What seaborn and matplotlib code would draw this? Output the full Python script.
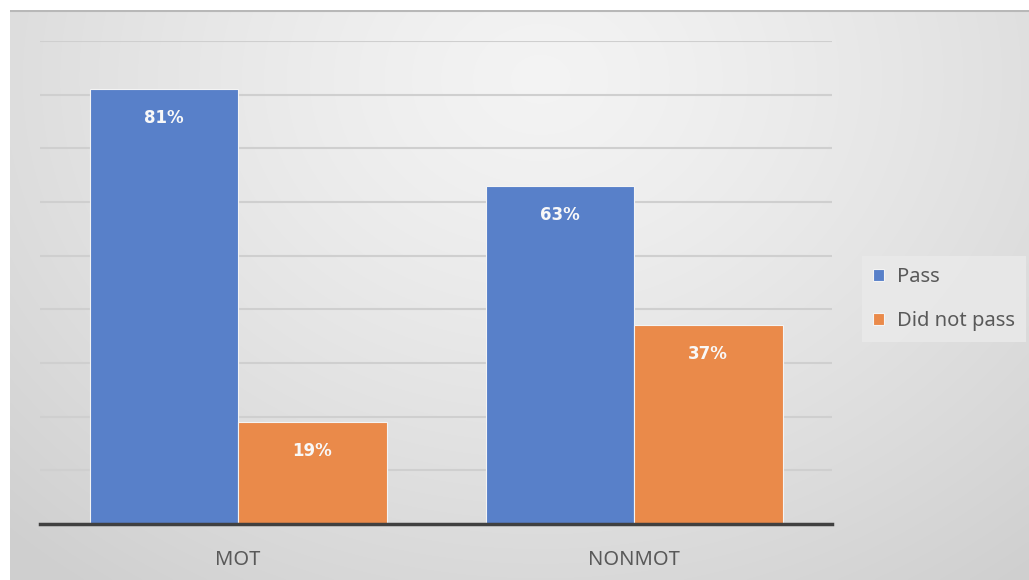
import numpy as np
import pandas as pd
import matplotlib
matplotlib.use("Agg")
import matplotlib.pyplot as plt
import seaborn as sns

categories = ["MOT", "NONMOT"]
series = ["Pass", "Did not pass"]
pass_vals = [0.81, 0.63]
fail_vals = [0.19, 0.37]
colors = ["#5880C9", "#EA8A4A"]

df = pd.DataFrame({
    "group": categories * 2,
    "result": [series[0]] * 2 + [series[1]] * 2,
    "share": pass_vals + fail_vals,
})

sns.set_theme(style="white")
plt.rcParams["font.family"] = ["Noto Sans", "DejaVu Sans"]

W, H = 1029, 580
fig = plt.figure(figsize=(W / 100, H / 100), dpi=100)
fig.patch.set_facecolor("white")

# soft radial backdrop behind the chart area
bg = fig.add_axes([10 / W, 0, 1 - 10 / W, 1 - 10 / H])
ny, nx = 300, 540
yy, xx = np.mgrid[0:ny, 0:nx]
cx, cy = nx * 0.52, ny * 0.12
r = np.sqrt(((xx - cx) / (nx * 0.75)) ** 2 + ((yy - cy) / (ny * 1.1)) ** 2)
r = np.clip(r, 0, 1)
light, dark = 0.955, 0.815
shade = light - (light - dark) * r ** 1.3
bg.imshow(np.dstack([shade] * 3), aspect="auto", extent=[0, 1, 0, 1],
          interpolation="bilinear")
bg.plot([0, 1], [0.998, 0.998], color="#b8b8b8", lw=1.5, transform=bg.transAxes)
bg.set_axis_off()

ax = fig.add_axes([40 / W, 1 - 524 / H, (832 - 40) / W, (524 - 41) / H])
ax.patch.set_alpha(0)

sns.barplot(data=df, x="group", y="share", hue="result", hue_order=series,
            palette=colors, width=0.75, saturation=1, edgecolor="#f4f4f4",
            linewidth=0.8, ax=ax, legend=True)

ax.set_ylim(0, 0.9)
ax.set_xlim(-0.5, 1.5)
ax.set_yticks(np.arange(0.1, 0.91, 0.1))
ax.yaxis.grid(True, color="#cfcfcf", lw=1.5)
ax.set_axisbelow(True)
ax.tick_params(axis="y", left=False, labelleft=False)
ax.tick_params(axis="x", bottom=False, labelsize=14.5, labelcolor="#595959", pad=13)
ax.set_xlabel("")
ax.set_ylabel("")
for s in ["top", "right", "left"]:
    ax.spines[s].set_visible(False)
ax.spines["bottom"].set_color("#404040")
ax.spines["bottom"].set_linewidth(2.5)

for cont in ax.containers:
    for bar in cont:
        h = bar.get_height()
        ax.annotate(f"{h * 100:.0f}%",
                    (bar.get_x() + bar.get_width() / 2, h),
                    xytext=(0, -29), textcoords="offset pixels",
                    ha="center", va="center", color="#f8f8f8",
                    fontsize=12, fontweight="bold", family="DejaVu Sans")

leg = ax.legend(loc="center left", bbox_to_anchor=(862 / W, 1 - 299 / H),
                bbox_transform=fig.transFigure, frameon=True, fontsize=14.5,
                handlelength=0.55, handleheight=0.55, handletextpad=0.65,
                labelspacing=1.2, borderpad=0.55, borderaxespad=0,
                fancybox=False)
leg.get_frame().set_facecolor("#e9e9e9")
leg.get_frame().set_edgecolor("none")
leg.get_frame().set_alpha(0.9)
for t in leg.get_texts():
    t.set_color("#595959")

fig.savefig("out.png", dpi=100)
